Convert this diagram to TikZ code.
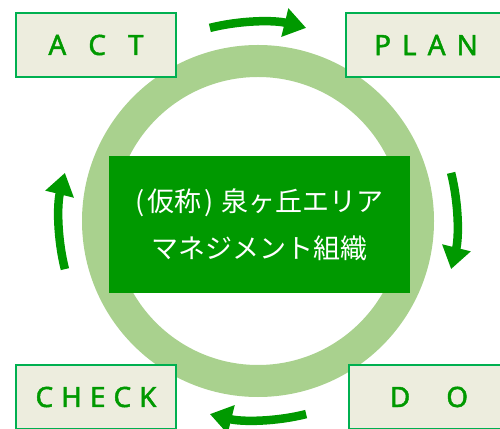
\documentclass[tikz,border=0pt]{standalone}
\usepackage{fontspec}
\setmainfont{Noto Sans}
\newfontfamily\jpfont{Noto Sans CJK JP}
\newfontfamily\phasefont[FakeBold=1.6]{Noto Sans}
\usetikzlibrary{arrows.meta}
\definecolor{ringgreen}{HTML}{A9D18E}
\definecolor{deepgreen}{HTML}{009900}
\definecolor{boxfill}{HTML}{EDEDDE}
\definecolor{boxline}{HTML}{00B050}
\tikzset{
	phasebox/.style={draw=boxline, line width=1.5pt, fill=boxfill, minimum width=160pt, minimum height=64pt, inner sep=0pt, text=deepgreen, font=\phasefont\fontsize{28}{28}\selectfont},
	cyclearrow/.style={color=deepgreen, line width=8.5pt, -{Triangle[width=28pt,length=22pt]}}
}

\begin{document}
\begin{tikzpicture}[x=1pt, y=1pt]
		%%%%% START %%%%%
		
		\clip (0, 0) rectangle (500, 428);
		\coordinate (c) at (258, 207);
		
		\draw[line width=32pt, color=ringgreen] (c) circle (160);
		
		\node[fill=deepgreen, minimum width=301pt, minimum height=137pt, inner sep=0pt, text=white, align=center, font=\jpfont\fontsize{27}{47}\selectfont] (title) at (259.5, 203.5) {(\kern3pt 仮称\kern3pt)\kern8pt 泉ヶ丘エリア\\マネジメント組織};
		
		\node[phasebox] (act) at (96, 383) {A\kern22pt C\kern22pt T};
		\node[phasebox] (plan) at (426, 383) {P\kern11pt L\kern11pt A\kern11pt N};
		\node[phasebox] (do) at (429, 31) {D\kern36pt O};
		\node[phasebox] (check) at (96, 31) {C\kern8pt H\kern8pt E\kern8pt C\kern8pt K};
		
		\draw[cyclearrow] ([shift={(104:199)}]c) arc (104:76:199);
		\draw[cyclearrow] ([shift={(14:199)}]c) arc (14:-14:199);
		\draw[cyclearrow] ([shift={(-76:199)}]c) arc (-76:-104:199);
		\draw[cyclearrow] ([shift={(194:199)}]c) arc (194:166:199);
		
		%%%%% END %%%%%
\end{tikzpicture}
\end{document}
